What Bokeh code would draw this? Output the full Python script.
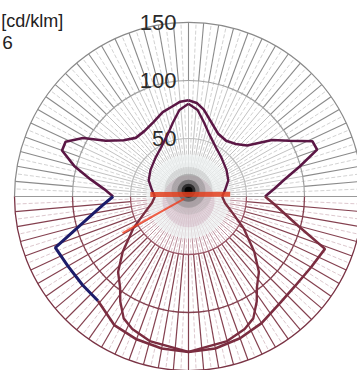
import numpy as np
from bokeh.plotting import figure
from bokeh.embed import file_html
from bokeh.resources import INLINE
from bokeh.core.properties import value

# ---------------- data (cd/klm, angle in degrees from nadir, + = right) -------------
ring_values = [50, 100, 150]
ring_labels = ["50", "100", "150"]
unit_label = "[cd/klm]"
extra_label = "6"

angles_A = [0, 10, 20, 30, 41, 50, 60, 69, 75, 80, 85, 90, 95, 100, 105, 110, 114, 119,
            124, 131, 138, 146, 155, 163, 170, 175, 180]
A_right = [134, 133, 130, 126, 121, 120, 122, 126, 98, 84, 74, 66, 74, 84, 99, 118, 117, 99,
           87, 67, 61, 58, 60, 67, 76, 81, 83]
A_left = [134, 133, 131, 128, 119, 119, 120, 123, 97, 83, 73, 65, 73, 86, 102, 116, 116, 104,
          86, 74, 68, 68, 71, 76, 79, 82, 83]

angles_B = [0, 15, 23, 28, 33, 37, 43, 50, 60, 70, 80, 90, 100, 112, 125, 140, 150, 162,
            168, 174, 180]
B_vals = [134, 129, 124, 119, 108, 98, 89, 74, 55, 40, 32, 29, 32, 37, 40, 44, 48, 57,
          65, 75, 80]

red_band_angles = [-93, 93]
red_band_vals = [33, 36]
red_ray_angles = [-61, -61]
red_ray_vals = [4, 65]

blue_from, blue_to = -90, -41   # angle span drawn in blue on left side of curve A

# ---------------- helpers ----------------
def polar(ang, r):
    t = np.radians(np.asarray(ang, dtype=float))
    r = np.asarray(r, dtype=float)
    return r * np.sin(t), -r * np.cos(t)

SC = 1.16  # px per cd/klm
W, H = 357, 370
cx, cy = 188, 196  # centre in figure px
p = figure(width=W, height=H, output_backend="svg", toolbar_location=None,
           x_range=(-cx / SC, (W - cx) / SC), y_range=(-(H - cy) / SC, cy / SC),
           min_border=0, outline_line_color=None)
p.axis.visible = False
p.grid.visible = False
p.background_fill_color = "white"

R = ring_values[-1]
step = np.arange(-180, 180, 5)
fine = np.arange(-177.5, 180, 5)

def spokes(angs, r0, r1):
    xs, ys = [], []
    for a in angs:
        x, y = polar([a, a], [r0, r1])
        xs.append(list(x)); ys.append(list(y))
    return xs, ys

up = [a for a in step if abs(a) > 90]
lo = [a for a in step if abs(a) < 90]
hz = [a for a in step if abs(a) == 90]
upf = [a for a in fine if abs(a) > 90]
lof = [a for a in fine if abs(a) < 90]

xs, ys = spokes(upf, 0, R)
p.multi_line(xs, ys, line_color="#d3d3d3", line_width=1, line_dash="4 2")
xs, ys = spokes(lof, 0, R)
p.multi_line(xs, ys, line_color="#ddc8ce", line_width=1, line_dash="4 2")

xs, ys = spokes(up, 0, ring_values[1])
p.multi_line(xs, ys, line_color="#c2c2c2", line_width=1)
xs, ys = spokes(up, ring_values[1], R)
p.multi_line(xs, ys, line_color="#8a8a8a", line_width=1.1)
xs, ys = spokes(lo, 0, ring_values[0])
p.multi_line(xs, ys, line_color="#bc8f9b", line_width=1)
xs, ys = spokes(lo, ring_values[0], R)
p.multi_line(xs, ys, line_color="#84404f", line_width=1.2)
xs, ys = spokes(hz, 0, R)
p.multi_line(xs, ys, line_color="#9a9a9a", line_width=1.1)

# rings
up_cols = ["#bdbdbd", "#a0a0a0", "#8a8a8a"]
lo_cols = ["#9a5565", "#84404f", "#7a3445"]
for rv, cu, cl in zip(ring_values, up_cols, lo_cols):
    p.arc(x=0, y=0, radius=rv, start_angle=0, end_angle=np.pi, line_color=cu, line_width=1.2)
    p.arc(x=0, y=0, radius=rv, start_angle=np.pi, end_angle=2 * np.pi, line_color=cl, line_width=1.3)

# centre haze
p.scatter(x=[0], y=[0], size=[84], fill_color="#eef2f2", fill_alpha=0.75, line_color=None)
p.scatter(x=[0], y=[-4], size=[52], fill_color="#c9a0b5", fill_alpha=0.35, line_color=None)

# labels
p.text(x=[-10.3] * 3, y=ring_values, text=ring_labels, text_align="right",
       text_baseline="middle", text_font=value("Liberation Sans"), text_font_size="22px",
       text_color="#2a2a2a")
p.text(x=[-161.5], y=[151.7], text=[unit_label], text_align="left", text_baseline="middle",
       text_font=value("Liberation Sans"), text_font_size="18px", text_color="#222222")
p.text(x=[-160.5], y=[132.8], text=[extra_label], text_align="left", text_baseline="middle",
       text_font=value("Liberation Sans"), text_font_size="19px", text_color="#222222")

# curves
purple, maroon, navy = "#5b1745", "#7b2d40", "#1c1c6a"
aA = np.array(angles_A, dtype=float)
aB = np.array(angles_B, dtype=float)

def seg(angs, vals, lo_a, hi_a):
    angs = np.asarray(angs, float); vals = np.asarray(vals, float)
    m = (angs >= lo_a) & (angs <= hi_a)
    return polar(angs[m], vals[m])

x, y = seg(aA, A_right, 90, 180); p.line(x, y, line_color=purple, line_width=2.6)
x, y = seg(aA, A_right, 0, 90); p.line(x, y, line_color=maroon, line_width=2.6)
x, y = seg(-aA, A_left, -180, -90); p.line(x, y, line_color=purple, line_width=2.6)
x, y = seg(-aA, A_left, blue_to, 0); p.line(x, y, line_color=maroon, line_width=2.6)
x, y = seg(-aA, A_left, blue_from, blue_to); p.line(x, y, line_color=navy, line_width=3)

for sgn in (1, -1):
    a = sgn * aB
    x, y = seg(a, B_vals, -180, -90) if sgn < 0 else seg(a, B_vals, 90, 180)
    p.line(x, y, line_color=purple, line_width=2.4)
    x, y = seg(a, B_vals, -90, 0) if sgn < 0 else seg(a, B_vals, 0, 90)
    p.line(x, y, line_color=maroon, line_width=2.4)

# centre blob
for s, c, al in [(48, "#9a9a9a", 0.25), (34, "#707070", 0.35), (22, "#404040", 0.5),
                 (14, "#151515", 0.75), (8, "#000000", 0.9)]:
    p.scatter(x=[0], y=[5], size=[s], fill_color=c, fill_alpha=al, line_color=None)

# red elements
x, y = polar(red_band_angles, red_band_vals)
p.line(x, y, line_color="#e3401e", line_width=5, line_alpha=0.85)
x, y = polar(red_ray_angles, red_ray_vals)
p.line(x, y, line_color="#ef3a1a", line_width=2, line_alpha=0.8)

open("out.html", "w").write(file_html(p, INLINE))
